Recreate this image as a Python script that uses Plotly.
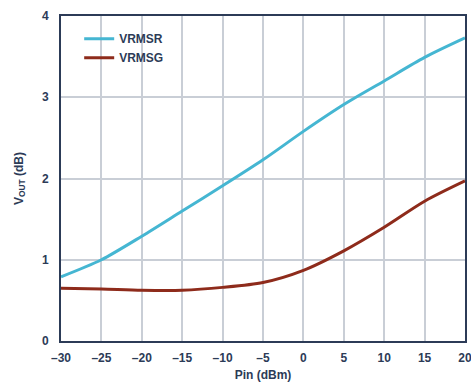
import plotly.graph_objects as go

pin = [-30, -25, -20, -15, -10, -5, 0, 5, 10, 15, 20]
vrmsr = [0.79, 1.00, 1.29, 1.60, 1.91, 2.23, 2.58, 2.91, 3.20, 3.49, 3.73]
vrmsg = [0.65, 0.64, 0.625, 0.625, 0.66, 0.72, 0.87, 1.11, 1.40, 1.72, 1.97]

x_ticks = [-30, -25, -20, -15, -10, -5, 0, 5, 10, 15, 20]
x_ticktext = ["\u201330", "\u201325", "\u201320", "\u201315", "\u201310", "\u20135", "0", "5", "10", "15", "20"]
y_ticks = [0, 1, 2, 3, 4]

navy = "#2c3b57"
font_family = "Liberation Sans, Arial, sans-serif"

fig = go.Figure()
fig.add_trace(go.Scatter(x=pin, y=vrmsr, mode="lines", name="<b>VRMSR</b>",
                         line=dict(color="#45b6d2", width=3, shape="spline", smoothing=0.8)))
fig.add_trace(go.Scatter(x=pin, y=vrmsg, mode="lines", name="<b>VRMSG</b>",
                         line=dict(color="#8e2b1b", width=3, shape="spline", smoothing=0.8)))

fig.update_layout(
    width=471, height=384,
    margin=dict(l=61, r=6, t=16, b=43, autoexpand=False),
    paper_bgcolor="white", plot_bgcolor="white",
    font=dict(family=font_family, color=navy, size=12),
    showlegend=True,
    legend=dict(x=0.045, y=0.975, xanchor="left", yanchor="top",
                bgcolor="rgba(255,255,255,0)", font=dict(size=12, color=navy),
                tracegroupgap=0, itemwidth=30),
    xaxis=dict(range=[-30, 20], tickvals=x_ticks,
               ticktext=["<b>%s</b>" % t for t in x_ticktext],
               showgrid=True, gridcolor="#c9ced6", gridwidth=1.5,
               showline=True, linecolor=navy, linewidth=2, mirror=True,
               ticks="", zeroline=False, automargin=False, ticklabelstandoff=5,
               ticklabeloverflow="allow",
               tickfont=dict(size=12, color=navy, family=font_family),
               title=dict(text="<b>Pin (dBm)</b>", font=dict(size=12, color=navy), standoff=6)),
    yaxis=dict(range=[0, 4], tickvals=y_ticks, ticktext=["<b>%d</b>" % v for v in y_ticks],
               showgrid=True, gridcolor="#c9ced6", gridwidth=1.5,
               showline=True, linecolor=navy, linewidth=2, mirror=True,
               ticks="", zeroline=False, automargin=False, ticklabelstandoff=8,
               ticklabeloverflow="allow",
               tickfont=dict(size=12, color=navy, family=font_family),
               title=dict(text="<b>V<sub>OUT</sub> (dB)</b>", font=dict(size=12, color=navy), standoff=16)),
)

fig.write_html("out.html")
